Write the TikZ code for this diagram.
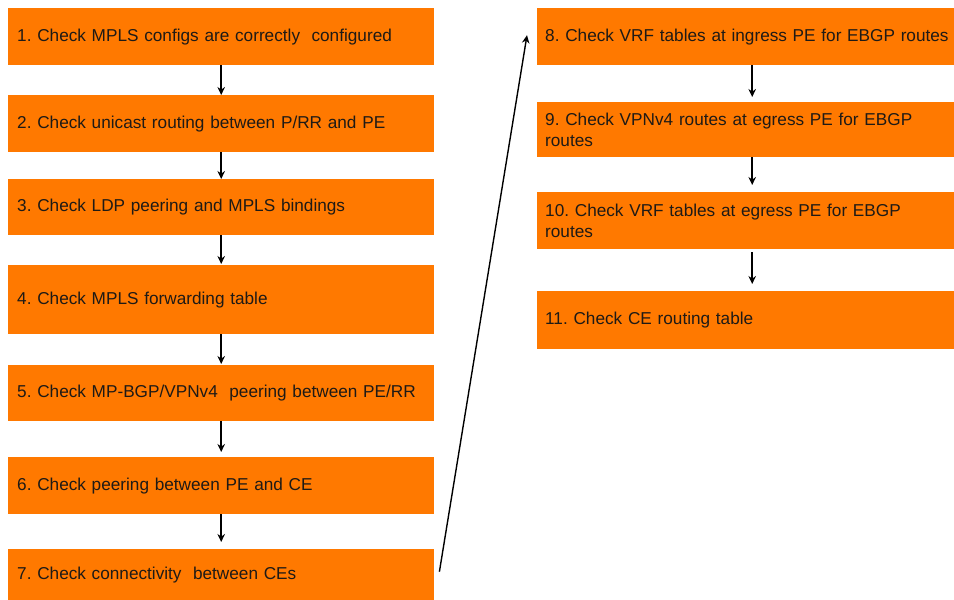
\documentclass[tikz,border=0pt]{standalone}
\usepackage{fontspec}
\setmainfont{Liberation Sans}
\usetikzlibrary{arrows.meta}
\definecolor{boxorange}{RGB}{255,121,0}
\definecolor{txt}{RGB}{30,26,22}
\begin{document}
\begin{tikzpicture}[x=1pt,y=-1pt,
  stepbox/.style={fill=boxorange, draw=none, inner xsep=9pt, inner ysep=0pt,
    anchor=north west, align=left, text=txt,
    font=\fontsize{17.2}{20.5}\selectfont\frenchspacing},
  leftbox/.style={stepbox, minimum width=426pt, text width=408pt},
  rightbox/.style={stepbox, minimum width=417pt, text width=401pt, inner xsep=8pt},
  flow/.style={-{Stealth[length=8pt,width=7.5pt]}, line width=1.7pt, black}]
\useasboundingbox (0,0) rectangle (954,600);
\node[leftbox, minimum height=57pt] (n1) at (8,8) {1. Check MPLS configs are correctly\ \ configured};
\node[leftbox, minimum height=57pt] (n2) at (8,95) {2. Check unicast routing between P/RR and PE};
\node[leftbox, minimum height=56pt] (n3) at (8,179) {3. Check LDP peering and MPLS bindings};
\node[leftbox, minimum height=69pt] (n4) at (8,265) {4. Check MPLS forwarding table};
\node[leftbox, minimum height=56pt] (n5) at (8,365) {5. Check MP-BGP/VPNv4\ \ peering between PE/RR};
\node[leftbox, minimum height=57pt] (n6) at (8,457) {6. Check peering between PE and CE};
\node[leftbox, minimum height=51pt] (n7) at (8,549) {7. Check connectivity\ \ between CEs};
\node[rightbox, minimum height=57pt] (n8) at (537,8) {\makebox[0pt][l]{8. Check VRF tables at ingress PE for EBGP routes}};
\node[rightbox, minimum height=55pt] (n9) at (537,102) {9. Check VPNv4 routes at egress PE for EBGP\\routes};
\node[rightbox, minimum height=57pt] (n10) at (537,192) {10. Check VRF tables at egress PE for EBGP\\routes};
\node[rightbox, minimum height=58pt] (n11) at (537,291) {11. Check CE routing table};
\draw[flow] (n1.south) -- (n2.north);
\draw[flow] (n2.south) -- (n3.north);
\draw[flow] (n3.south) -- ([yshift=1pt]n4.north);
\draw[flow] (n4.south) -- ([yshift=1pt]n5.north);
\draw[flow] (n5.south) -- ([yshift=5pt]n6.north);
\draw[flow] (n6.south) -- ([yshift=7pt]n7.north);
\draw[flow] ([xshift=6.5pt]n8.south) -- ([xshift=6.5pt,yshift=5pt]n9.north);
\draw[flow] ([xshift=6.5pt]n9.south) -- ([xshift=6.5pt,yshift=7pt]n10.north);
\draw[flow] ([xshift=6.5pt,yshift=-3pt]n10.south) -- ([xshift=6.5pt,yshift=7pt]n11.north);
\draw[flow, line width=1.4pt] ([xshift=5pt,yshift=3pt]n7.east) -- ([xshift=-10pt,yshift=1.5pt]n8.west);
\end{tikzpicture}
\end{document}
